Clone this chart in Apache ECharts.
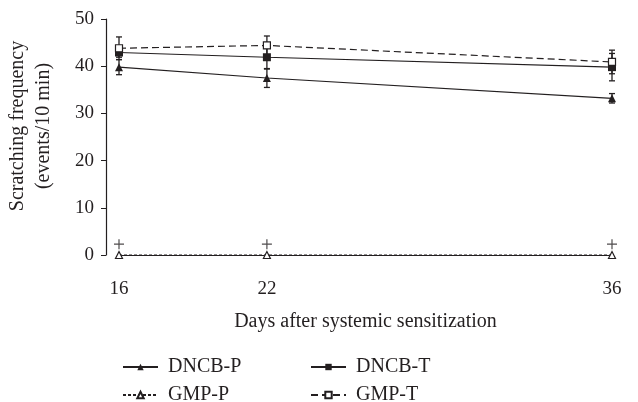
<!DOCTYPE html>
<html>
<head>
<meta charset="utf-8">
<script src="https://cdn.jsdelivr.net/npm/echarts@6/dist/echarts.min.js"></script>
<style>
  html, body { margin: 0; padding: 0; background: #fff; }
  #main { width: 638px; height: 402px; }
</style>
</head>
<body>
<div id="main"></div>
<script>
// days on the x axis
var days = [16, 22, 36];
// mean scratching frequency and error
var dncbP = [39.8, 37.5, 33.2];
var dncbPErr = [1.6, 2.0, 1.0];
var dncbT = [42.9, 41.9, 39.8];
var dncbTErr = [1.0, 2.5, 2.9];
var gmpP = [0, 0, 0];
var gmpT = [43.8, 44.4, 40.9];
var gmpTErr = [2.4, 2.0, 2.5];
// "+" marks above the baseline
var plusMarks = [2.3, 2.3, 2.3];
var yTicks = [0, 10, 20, 30, 40, 50];

var font = 'Liberation Serif';
var ink = '#231f20';
var chart = echarts.init(document.getElementById('main'));

function pairs(vals) {
    return days.map(function (d, i) { return [d, vals[i]]; });
}
function errData(vals, errs) {
    return days.map(function (d, i) { return [d, vals[i] - errs[i], vals[i] + errs[i]]; });
}

// vertical error bar with caps
function renderErr(params, api) {
    var lo = api.coord([api.value(0), api.value(1)]);
    var hi = api.coord([api.value(0), api.value(2)]);
    var w = 3;
    var st = { stroke: ink, lineWidth: 1.3 };
    return {
        type: 'group',
        children: [
            { type: 'line', shape: { x1: lo[0], y1: lo[1], x2: hi[0], y2: hi[1] }, style: st },
            { type: 'line', shape: { x1: lo[0] - w, y1: lo[1], x2: lo[0] + w, y2: lo[1] }, style: st },
            { type: 'line', shape: { x1: hi[0] - w, y1: hi[1], x2: hi[0] + w, y2: hi[1] }, style: st }
        ]
    };
}

function errSeries(vals, errs) {
    return {
        type: 'custom',
        renderItem: renderErr,
        data: errData(vals, errs),
        encode: { x: 0, y: [1, 2] },
        z: 1,
        silent: true
    };
}

function legendAt(name, left, top) {
    return {
        data: [name], left: left, top: top, padding: 0,
        itemWidth: 35, itemHeight: 8, itemGap: 0,
        textStyle: { fontFamily: font, fontSize: 20, color: ink, padding: [0, 0, 0, 5] }
    };
}

var option = {
    animation: false,
    backgroundColor: '#fff',
    textStyle: { fontFamily: font },
    grid: { left: 119, right: 26, top: 19, bottom: 147, outerBoundsMode: 'none', containLabel: false },
    legend: [
        legendAt('DNCB-P', 122, 357),
        legendAt('GMP-P', 122, 385),
        legendAt('DNCB-T', 310, 357),
        legendAt('GMP-T', 310, 385)
    ],
    xAxis: {
        type: 'value', min: 16, max: 36, offset: 14,
        name: 'Days after systemic sensitization',
        nameLocation: 'middle', nameGap: 43,
        nameTextStyle: { fontFamily: font, fontSize: 20, color: ink },
        axisLine: { show: true, lineStyle: { color: ink, width: 1.2 } },
        axisTick: { show: true, customValues: days, length: 4, lineStyle: { color: ink } },
        axisLabel: { customValues: days, fontFamily: font, fontSize: 19, color: ink, margin: 11 },
        splitLine: { show: false }
    },
    yAxis: {
        type: 'value', min: 0, max: 50, interval: 10, offset: 13,
        name: 'Scratching frequency\n(events/10 min)',
        nameLocation: 'middle', nameGap: 49,
        nameTextStyle: { fontFamily: font, fontSize: 20, color: ink, lineHeight: 26, padding: [0, 0, 0, 22] },
        axisLine: { show: true, lineStyle: { color: ink, width: 1.2 } },
        axisTick: { show: true, length: 5, lineStyle: { color: ink } },
        axisLabel: { fontFamily: font, fontSize: 19, color: ink, margin: 12,
            formatter: function (v) { return yTicks.indexOf(v) >= 0 ? String(v) : ''; } },
        splitLine: { show: false }
    },
    series: [
        errSeries(dncbP, dncbPErr),
        errSeries(dncbT, dncbTErr),
        errSeries(gmpT, gmpTErr),
        {
            name: 'DNCB-P', type: 'line', data: pairs(dncbP),
            symbol: 'triangle', symbolSize: 8,
            lineStyle: { color: ink, width: 1.2 },
            itemStyle: { color: ink }, z: 3
        },
        {
            name: 'DNCB-T', type: 'line', data: pairs(dncbT),
            symbol: 'rect', symbolSize: 8,
            lineStyle: { color: ink, width: 1.2 },
            itemStyle: { color: ink }, z: 3
        },
        {
            name: 'GMP-P', type: 'line', data: pairs(gmpP),
            symbol: 'triangle', symbolSize: 7,
            lineStyle: { color: ink, width: 1, type: [3, 2] },
            itemStyle: { color: '#fff', borderColor: ink, borderWidth: 1.2 }, z: 3
        },
        {
            name: 'GMP-T', type: 'line', data: pairs(gmpT),
            symbol: 'rect', symbolSize: 7,
            lineStyle: { color: ink, width: 1.2, type: [7, 4] },
            itemStyle: { color: '#fff', borderColor: ink, borderWidth: 1.2 }, z: 4
        },
        {
            type: 'scatter', data: pairs(plusMarks),
            symbol: 'path://M0,5L10,5M5,0L5,10', symbolSize: 10,
            itemStyle: { color: 'none', borderColor: ink, borderWidth: 1.2 },
            silent: true
        }
    ]
};
chart.setOption(option);
</script>
</body>
</html>
